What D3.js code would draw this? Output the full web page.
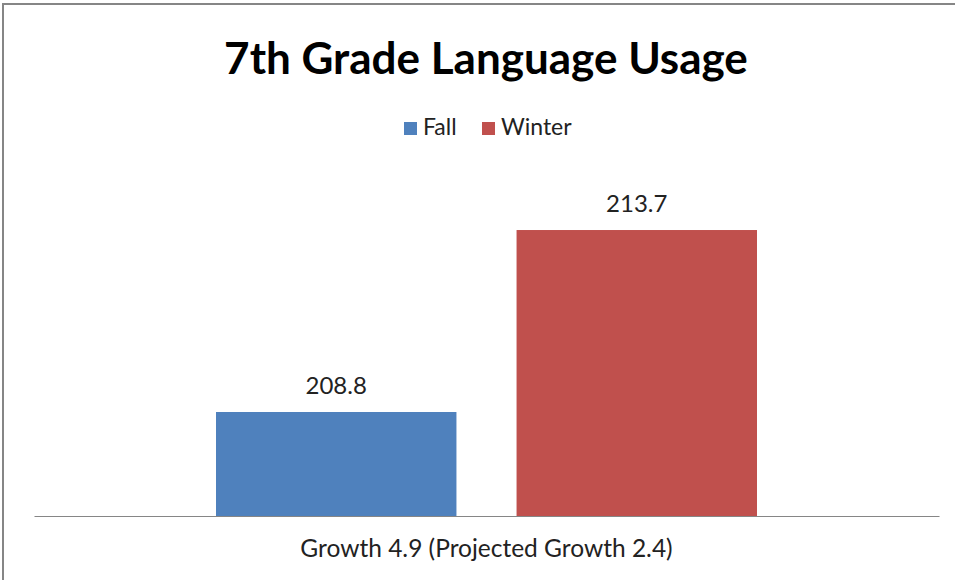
<!DOCTYPE html>
<html>
<head>
<meta charset="utf-8">
<script src="https://cdn.jsdelivr.net/npm/d3@7"></script>
<style>
  body { margin: 0; background: #fff; }
  svg { font-family: Lato, "Open Sans", sans-serif; }
</style>
</head>
<body>
<svg id="chart" width="955" height="580"></svg>
<script>
const title = "7th Grade Language Usage";
const category = ["Growth 4.9 (Projected Growth 2.4)"];
const seriesNames = ["Fall", "Winter"];
const seriesValues = [208.8, 213.7];
const seriesColors = ["#4f81bd", "#c0504d"];
const yDomain = [206, 216];

const width = 955, height = 580;
const margin = {top: 145, right: 16, bottom: 64, left: 34};

let svg = d3.select("#chart");

// chart border
svg.append("rect")
    .attr("x", 3).attr("y", 4)
    .attr("width", width + 10).attr("height", height + 10)
    .attr("fill", "white")
    .attr("stroke", "#868686")
    .attr("stroke-width", 2);

let x0 = d3.scaleBand()
    .domain(category)
    .range([margin.left, width - margin.right])
    .paddingInner(0).paddingOuter(0.2);

let x1 = d3.scaleBand()
    .domain(seriesNames)
    .range([x0(category[0]) + 182 - x0.step() * 0.2, x0(category[0]) + x0.bandwidth() - 182 + x0.step() * 0.2])
    .paddingInner(0.2).paddingOuter(0);

let yScale = d3.scaleLinear()
    .domain(yDomain)
    .range([height - margin.bottom, height - margin.bottom - 371.4]);

let baseY = yScale(yDomain[0]);

// bars
svg.selectAll(".bar")
    .data(seriesNames)
    .enter().append("rect")
    .attr("x", d => x1(d))
    .attr("y", (d, i) => yScale(seriesValues[i]))
    .attr("width", x1.bandwidth())
    .attr("height", (d, i) => baseY - yScale(seriesValues[i]))
    .attr("fill", (d, i) => seriesColors[i]);

// value labels
svg.selectAll(".label")
    .data(seriesNames)
    .enter().append("text")
    .attr("x", d => x1(d) + x1.bandwidth() / 2)
    .attr("y", (d, i) => yScale(seriesValues[i]) - 18)
    .attr("text-anchor", "middle")
    .attr("font-size", "24px")
    .attr("fill", "#222")
    .text((d, i) => seriesValues[i].toFixed(1));

// x axis
let xAxis = svg.append("g")
    .attr("transform", `translate(0,${baseY})`)
    .call(d3.axisBottom(x0.copy().paddingOuter(0)).tickSize(0).tickPadding(24));
xAxis.select(".domain").attr("stroke", "#868686").attr("stroke-width", 1.2);
xAxis.selectAll("text")
    .style("font-size", "24.5px")
    .style("font-family", "Lato, 'Open Sans', sans-serif")
    .attr("fill", "#222");

// title
svg.append("text")
    .attr("x", 486)
    .attr("y", 74)
    .attr("text-anchor", "middle")
    .attr("font-size", "44px")
    .attr("font-weight", "bold")
    .attr("fill", "#000")
    .text(title);

// legend
let legendX = [404, 482];
let legend = svg.selectAll(".legend")
    .data(seriesNames)
    .enter().append("g")
    .attr("transform", (d, i) => `translate(${legendX[i]},122)`);
legend.append("rect")
    .attr("width", 13).attr("height", 13)
    .attr("fill", (d, i) => seriesColors[i]);
legend.append("text")
    .attr("x", 19).attr("y", 13)
    .attr("font-size", "23px")
    .attr("fill", "#222")
    .text(d => d);
</script>
</body>
</html>
